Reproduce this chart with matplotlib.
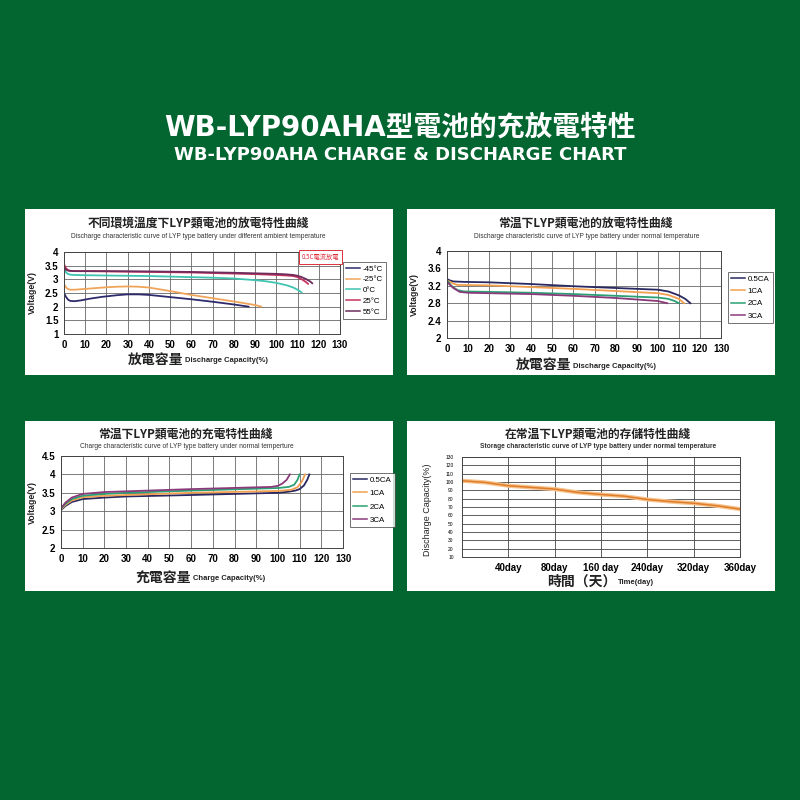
"""WB-LYP90AHA charge & discharge chart."""
import matplotlib
matplotlib.use('Agg')
import matplotlib.pyplot as plt
from matplotlib.patches import Rectangle
from matplotlib.lines import Line2D

W, H = 800, 800
GREEN = '#03652f'
CJK = ['Noto Sans CJK TC', 'DejaVu Sans']
LAT = ['Liberation Sans', 'DejaVu Sans']

# panel 1: discharge at different ambient temperature (0.5C)
temp_labels = ['-45°C', '-25°C', '0°C', '25°C', '55°C']
temp_colors = ['#2e2b6c', '#f0a45a', '#3fc4b2', '#c8325e', '#6e2c5c']
temp_cap = [
    [0, 1, 2, 3, 5, 8, 12, 18, 25, 30, 35, 40, 50, 60, 70, 80, 87],
    [0, 1, 2, 3, 5, 10, 15, 20, 25, 30, 35, 40, 50, 60, 70, 80, 90, 93],
    [0, 1, 2, 3, 5, 10, 20, 30, 40, 50, 60, 70, 80, 90, 95, 100, 105, 108, 110, 112],
    [0, 1, 2, 3, 5, 10, 20, 40, 60, 80, 90, 100, 105, 108, 110, 112, 114, 115],
    [0, 1, 2, 3, 5, 10, 20, 40, 60, 80, 90, 100, 105, 108, 110, 112, 114, 116, 117],
]
temp_volt = [
    [2.5, 2.35, 2.25, 2.21, 2.2, 2.23, 2.29, 2.36, 2.42, 2.45, 2.45, 2.43, 2.35, 2.27, 2.18, 2.08, 2.0],
    [2.82, 2.7, 2.64, 2.62, 2.62, 2.65, 2.68, 2.71, 2.73, 2.74, 2.73, 2.7, 2.57, 2.43, 2.31, 2.19, 2.06, 2.0],
    [3.42, 3.25, 3.19, 3.17, 3.16, 3.15, 3.14, 3.13, 3.12, 3.1, 3.08, 3.06, 3.03, 2.97, 2.93, 2.87, 2.78, 2.7, 2.62, 2.52],
    [3.55, 3.4, 3.33, 3.31, 3.3, 3.3, 3.29, 3.27, 3.25, 3.21, 3.19, 3.16, 3.14, 3.12, 3.08, 3.0, 2.9, 2.83],
    [3.45, 3.35, 3.32, 3.31, 3.3, 3.3, 3.3, 3.29, 3.27, 3.24, 3.22, 3.2, 3.18, 3.16, 3.13, 3.08, 3.01, 2.92, 2.85],
]

# panel 2: discharge at normal temperature
rate_labels = ['0.5CA', '1CA', '2CA', '3CA']
rate_colors = ['#2a2860', '#f2a050', '#2aa074', '#8a3a7a']
dis_cap = [
    [0, 1, 3, 8, 20, 40, 60, 80, 100, 105, 110, 113, 115.5],
    [0, 1, 3, 5, 20, 40, 60, 80, 100, 105, 110, 112.5],
    [0, 1, 2, 5, 8, 20, 40, 60, 80, 100, 105, 108, 110],
    [0, 1, 3, 6, 10, 20, 40, 60, 80, 100, 104.5],
]
dis_volt = [
    [3.36, 3.33, 3.3, 3.29, 3.28, 3.24, 3.19, 3.15, 3.11, 3.07, 2.98, 2.9, 2.8],
    [3.33, 3.3, 3.25, 3.22, 3.21, 3.17, 3.13, 3.08, 3.03, 2.99, 2.9, 2.8],
    [3.32, 3.27, 3.2, 3.1, 3.07, 3.06, 3.04, 3.01, 2.97, 2.93, 2.9, 2.85, 2.8],
    [3.3, 3.24, 3.15, 3.06, 3.04, 3.03, 3.01, 2.97, 2.92, 2.85, 2.8],
]

# panel 3: charge at normal temperature
chg_cap = [
    [0, 2, 5, 10, 20, 30, 60, 100, 105, 108, 110, 112, 113.5, 114.5],
    [0, 2, 5, 10, 20, 30, 60, 100, 106, 109, 111, 112.5],
    [0, 2, 5, 10, 20, 30, 60, 100, 105, 107.5, 109, 110],
    [0, 2, 5, 10, 20, 30, 60, 97, 100, 102, 104, 105.5],
]
chg_volt = [
    [3.03, 3.14, 3.25, 3.33, 3.37, 3.4, 3.44, 3.5, 3.53, 3.56, 3.6, 3.7, 3.85, 4.0],
    [3.05, 3.17, 3.29, 3.38, 3.42, 3.44, 3.5, 3.55, 3.58, 3.65, 3.8, 4.0],
    [3.07, 3.2, 3.33, 3.42, 3.47, 3.5, 3.56, 3.63, 3.66, 3.72, 3.85, 4.0],
    [3.08, 3.23, 3.37, 3.47, 3.52, 3.54, 3.6, 3.66, 3.69, 3.75, 3.85, 4.0],
]

# panel 4: storage
store_pos = [0, 0.5, 1, 1.5, 2, 2.5, 3, 3.5, 4, 4.5, 5, 5.5, 6]
store_cap = [101.5, 99.5, 95.5, 93.5, 91.5, 87.5, 85, 83, 79, 76.5, 74.5, 71.5, 67.5]
store_ticks = ['40day', '80day', '160 day', '240day', '320day', '360day']

cap_ticks = list(range(0, 131, 10))


def rect(x0, y0, x1, y1):
    return [x0 / W, 1 - y1 / H, (x1 - x0) / W, (y1 - y0) / H]


def fxy(x, y):
    return x / W, 1 - y / H


fig = plt.figure(figsize=(8, 8), dpi=100, facecolor=GREEN)

fig.text(*fxy(400, 136), 'WB-LYP90AHA型電池的充放電特性', color='white',
         fontsize=20, fontweight='bold', family=['DejaVu Sans', 'Noto Sans CJK TC'],
         ha='center', va='baseline')
fig.text(*fxy(400, 160), 'WB-LYP90AHA CHARGE & DISCHARGE CHART', color='white',
         fontsize=13, fontweight='bold', family=['DejaVu Sans'],
         ha='center', va='baseline')

panels = [
    dict(box=(25, 209, 393, 375), ax=(64, 252, 340, 334), title=(198, 223.5), sub=(198, 236),
         ylab=(32, 293), xlab=(183, 360),
         t='不同環境溫度下LYP類電池的放電特性曲綫',
         s='Discharge characteristic curve of LYP type battery under different ambient temperature',
         xl=('放電容量', 'Discharge Capacity(%)')),
    dict(box=(407, 209, 775, 375), ax=(447, 251, 721, 338), title=(585, 223.5), sub=(587, 236),
         ylab=(414, 295), xlab=(571, 365),
         t='常温下LYP類電池的放電特性曲綫',
         s='Discharge characteristic curve of LYP type battery under normal temperature',
         xl=('放電容量', 'Discharge Capacity(%)')),
    dict(box=(25, 421, 393, 591), ax=(61, 456, 343, 548), title=(185, 434.5), sub=(187, 447),
         ylab=(32, 503), xlab=(191, 578),
         t='常温下LYP類電池的充電特性曲綫',
         s='Charge characteristic curve of LYP type battery under normal temperture',
         xl=('充電容量', 'Charge Capacity(%)')),
    dict(box=(407, 421, 775, 591), ax=(462, 457, 740, 557), title=(598, 434.5), sub=(598, 447),
         ylab=(428, 510), xlab=(616, 582),
         t='在常温下LYP類電池的存儲特性曲綫',
         s='Storage characteristic curve of LYP type battery under normal temperature',
         xl=('時間（天）', 'Time(day)')),
]

axes = []
for i, p in enumerate(panels):
    x0, y0, x1, y1 = p['box']
    fig.add_artist(Rectangle((x0 / W, 1 - y1 / H), (x1 - x0) / W, (y1 - y0) / H,
                             transform=fig.transFigure, facecolor='white',
                             edgecolor='none', zorder=-1))
    fig.text(*fxy(*p['title']), p['t'], fontsize=8.5, fontweight='bold', family=CJK,
             ha='center', va='center', color='#222')
    fig.text(*fxy(*p['sub']), p['s'], fontsize=4.8, family=LAT, ha='center', va='center',
             color='#333', fontweight='bold' if i == 3 else 'normal')
    fig.text(*fxy(*p['xlab']), p['xl'][0], fontsize=10, fontweight='bold', family=CJK,
             ha='right', va='center', color='#222')
    fig.text(*fxy(p['xlab'][0] + 2, p['xlab'][1] + 1), p['xl'][1], fontsize=5.5,
             fontweight='bold', family=LAT, ha='left', va='center', color='#222')
    ylabel = 'Discharge Capacity(%)' if i == 3 else 'Voltage(V)'
    fig.text(*fxy(*p['ylab']), ylabel, fontsize=6.3 if i < 3 else 6.5, rotation=90,
             fontweight='bold' if i < 3 else 'normal', family=LAT,
             ha='center', va='center', color='#222')
    ax = fig.add_axes(rect(*p['ax']))
    ax.set_facecolor('white')
    for sp in ax.spines.values():
        sp.set_linewidth(0.7)
        sp.set_color('#444')
    ax.tick_params(length=0, labelsize=7, pad=4)
    axes.append(ax)


def volt_axes(ax, yticks):
    ax.set_xlim(0, 130)
    ax.set_ylim(yticks[0], yticks[-1])
    ax.set_xticks(cap_ticks)
    ax.set_yticks(yticks)
    ax.set_xticklabels([str(v) for v in cap_ticks], fontweight='bold', family=LAT)
    ax.set_yticklabels([f'{v:g}' for v in yticks], fontweight='bold', family=LAT)
    ax.grid(True, color='#666', lw=0.6)
    ax.set_axisbelow(True)


def add_legend(ax, labels, colors, x, y, spacing):
    handles = [Line2D([], [], color=c, lw=1.1) for c in colors]
    leg = ax.legend(handles, labels, loc='upper left', bbox_to_anchor=fxy(x, y),
                    bbox_transform=fig.transFigure, frameon=True, fancybox=False,
                    edgecolor='#333', handlelength=1.8, handletextpad=0.3,
                    borderpad=0.4, labelspacing=spacing, borderaxespad=0,
                    prop={'family': LAT, 'size': 5.7})
    leg.get_frame().set_linewidth(0.6)


# panel 1
ax = axes[0]
volt_axes(ax, [1, 1.5, 2, 2.5, 3, 3.5, 4])
for xs, ys, c in zip(temp_cap, temp_volt, temp_colors):
    ax.plot(xs, ys, color=c, lw=1.3, solid_capstyle='round')
add_legend(ax, temp_labels, temp_colors, 343, 262, 0.4)
fig.text(*fxy(320, 257), '0.5C電流放電', fontsize=4.5, color='#e0303c', family=CJK,
         ha='center', va='center',
         bbox=dict(facecolor='white', edgecolor='#e0303c', lw=0.7, pad=2.0))

# panel 2
ax = axes[1]
volt_axes(ax, [2, 2.4, 2.8, 3.2, 3.6, 4])
for xs, ys, c in zip(dis_cap, dis_volt, rate_colors):
    ax.plot(xs, ys, color=c, lw=1.3)
add_legend(ax, rate_labels, rate_colors, 728, 272, 0.6)

# panel 3
ax = axes[2]
volt_axes(ax, [2, 2.5, 3, 3.5, 4, 4.5])
for xs, ys, c in zip(chg_cap, chg_volt, rate_colors):
    ax.plot(xs, ys, color=c, lw=1.3)
add_legend(ax, rate_labels, rate_colors, 350, 473, 0.75)

# panel 4
ax = axes[3]
ax.set_xlim(0, 6)
ax.set_ylim(10, 130)
ax.set_xticks(range(1, 7))
ax.set_xticklabels(store_ticks, fontweight='bold', family=LAT, fontsize=7)
ax.set_yticks(range(10, 131, 10))
ax.set_yticklabels([str(v) for v in range(10, 131, 10)], fontsize=3.5, family=LAT)
ax.tick_params(axis='y', pad=6)
ax.grid(True, color='#444', lw=0.6)
ax.set_axisbelow(True)
ax.plot(store_pos, store_cap, color='#f6c28c', lw=3)
ax.plot(store_pos, store_cap, color='#e07c28', lw=1.1)

fig.savefig('out.png', dpi=100, facecolor=GREEN)
